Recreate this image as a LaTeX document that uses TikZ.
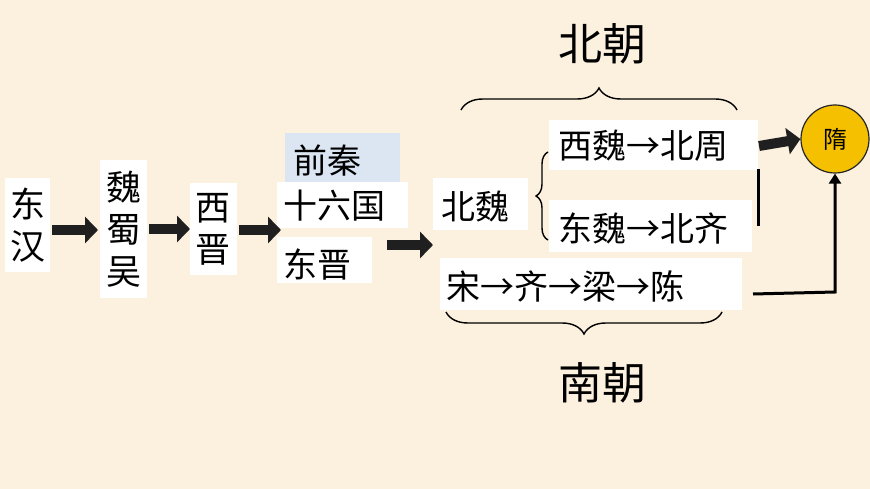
\documentclass[tikz,border=0pt]{standalone}
\usepackage{fontspec}
\setmainfont{Noto Sans CJK SC}
\usetikzlibrary{arrows.meta,decorations.pathreplacing}
\definecolor{bg}{HTML}{FCF0DE}
\definecolor{lblue}{HTML}{DCE6F2}
\definecolor{gold}{HTML}{F5C000}
\begin{document}
\begin{tikzpicture}[x=1pt,y=-1pt,
  txt/.style={font=\fontsize{34}{38}\selectfont,inner sep=0pt,anchor=west},
  vtxt/.style={font=\fontsize{35}{42}\selectfont,inner sep=0pt,align=center},
  bigarr/.style={line width=10pt,-{Triangle[width=26pt,length=13pt]},black!88},
  thinarr/.style={line width=3pt,-{Triangle[width=12pt,length=10pt]},black},
  brace/.style={decorate,decoration={brace,amplitude=22pt},line width=1.4pt}]
\fill[bg] (0,0) rectangle (870,489);
\useasboundingbox (0,0) rectangle (870,489);
% boxes
\fill[white] (5,178) rectangle (50,272);
\node[vtxt] (dh) at (28,225) {东\\汉};
\fill[white] (100,160) rectangle (147,298);
\node[vtxt] (wsw) at (124,229) {魏\\蜀\\吴};
\fill[white] (190,183) rectangle (237,275);
\node[vtxt] (xj) at (213,229) {西\\晋};
\fill[lblue] (285,133) rectangle (400,186);
\node[txt] (qq) at (293,160) {前秦};
\fill[white] (277,182) rectangle (408,228);
\node[txt] (sl) at (283,206) {十六国};
\fill[white] (277,237) rectangle (372,283);
\node[txt] (djin) at (283,264) {东晋};
\fill[white] (433,178) rectangle (528,230);
\node[txt] (bw) at (441,206) {北魏};
\fill[white] (549,120) rectangle (758,170);
\node[txt] (xw) at (558,146) {西魏→北周};
\fill[white] (549,200) rectangle (752,252);
\node[txt] (dw) at (558,228) {东魏→北齐};
\fill[white] (440,258) rectangle (742,310);
\node[txt] (nan) at (446,286) {宋→齐→梁→陈};
\node[circle,draw=black!85,line width=1.2pt,fill=gold,minimum size=68pt,inner sep=0pt,font=\fontsize{24}{26}\selectfont] (sui) at (835,139) {隋};
% big arrows
\coordinate (a1) at (52,230); \coordinate (a2) at (98,230);
\draw[bigarr] (a1) -- (a2);
\coordinate (b1) at (149,229); \coordinate (b2) at (190,229);
\draw[bigarr] (b1) -- (b2);
\coordinate (c1) at (239,230); \coordinate (c2) at (281,230);
\draw[bigarr] (c1) -- (c2);
\coordinate (d1) at (387,245); \coordinate (d2) at (433,245);
\draw[bigarr] (d1) -- (d2);
\coordinate (e1) at (759,146);
\draw[bigarr] (e1) -- (sui.west);
% connectors
\coordinate (v1) at (758,169); \coordinate (v2) at (758,226);
\draw[line width=3pt] (v1) -- (v2);
\coordinate (s1) at (753,294); \coordinate (s2) at (835,292);
\draw[thinarr] (s1) -- (s2) -- (sui.south);
% braces
\draw[brace] (461,110) -- (737,110);
\node[font=\fontsize{44}{48}\selectfont,inner sep=0pt] (bc) at (602,44) {北朝};
\draw[brace] (722,312) -- (446,312);
\node[font=\fontsize{44}{48}\selectfont,inner sep=0pt] (nc) at (602,383) {南朝};
\draw[decorate,decoration={brace,amplitude=12pt},line width=1.4pt] (548,240) -- (548,152);
\end{tikzpicture}
\end{document}
